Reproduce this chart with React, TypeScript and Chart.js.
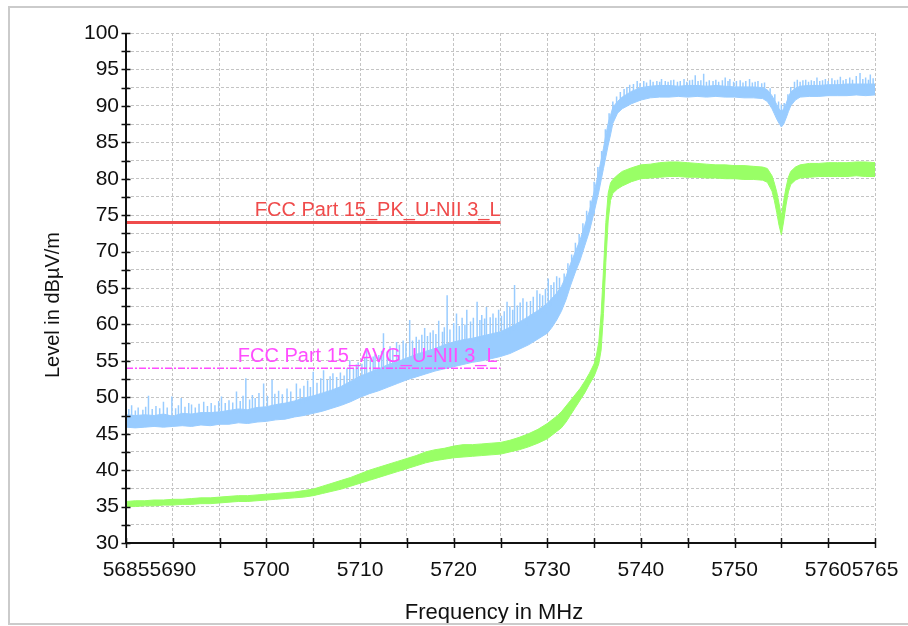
import React, { useEffect, useRef } from "react";
import { Chart, registerables } from "chart.js";

Chart.register(...registerables);

// Sweep frequencies (MHz); finer steps where the traces change quickly.
const freqMHz = [
  5685, 5686, 5687, 5688, 5689, 5690, 5691, 5692, 5693, 5694,
  5695, 5696, 5697, 5698, 5699, 5700, 5701, 5702, 5703, 5704,
  5705, 5706, 5707, 5708, 5709, 5710, 5711, 5712, 5713, 5714,
  5715, 5716, 5717, 5718, 5719, 5720, 5721, 5722, 5723, 5724,
  5725, 5726, 5727, 5728, 5729, 5730, 5730.5, 5731, 5731.5, 5732,
  5732.5, 5733, 5733.5, 5734, 5734.5, 5735, 5735.25, 5735.5, 5735.75, 5736,
  5736.25, 5736.5, 5736.75, 5737, 5737.5, 5738, 5739, 5740, 5741, 5742,
  5743, 5744, 5745, 5746, 5747, 5748, 5749, 5750, 5751, 5752,
  5753, 5753.5, 5754, 5754.25, 5754.5, 5754.75, 5755, 5755.25, 5755.5, 5755.75,
  5756, 5756.5, 5757, 5758, 5759, 5760, 5761, 5762, 5763, 5764,
  5765,
];

// Peak detector trace: lower and upper edge of the noise band (dBµV/m).
const peakLow = [
  45.9, 45.8, 45.9, 46.0, 45.9, 46.0, 46.1, 46.0, 46.2, 46.1,
  46.3, 46.3, 46.5, 46.4, 46.6, 46.7, 46.9, 47.0, 47.3, 47.5,
  47.8, 48.1, 48.5, 48.9, 49.4, 50.0, 50.5, 50.9, 51.4, 51.9,
  52.4, 52.8, 53.2, 53.6, 53.9, 54.2, 54.5, 54.8, 55.0, 55.3,
  55.6, 56.0, 56.6, 57.2, 58.0, 58.8, 59.6, 60.6, 61.8, 63.4,
  65.4, 67.2, 68.8, 70.8, 72.8, 75.4, 76.8, 78.2, 79.8, 81.4,
  83.0, 84.6, 86.0, 87.6, 89.0, 89.6, 90.3, 90.8, 91.1, 91.2,
  91.2, 91.3, 91.2, 91.3, 91.2, 91.3, 91.2, 91.2, 91.1, 91.1,
  91.0, 90.6, 89.6, 88.9, 88.2, 87.6, 87.1, 87.5, 88.3, 89.2,
  90.0, 90.8, 91.2, 91.3, 91.3, 91.4, 91.4, 91.4, 91.5, 91.4,
  91.5,
];
const peakHigh = [
  47.6, 47.5, 47.6, 47.5, 47.7, 47.4, 47.8, 47.7, 47.9, 47.9,
  48.0, 48.2, 48.4, 48.3, 48.6, 48.7, 49.0, 49.2, 49.5, 49.9,
  50.2, 50.6, 51.0, 51.5, 52.2, 52.9, 53.4, 53.9, 54.5, 54.9,
  55.4, 55.9, 56.3, 56.7, 57.2, 57.6, 57.9, 58.1, 58.4, 58.7,
  59.0, 59.6, 60.3, 61.1, 61.9, 62.9, 63.6, 64.3, 65.2, 66.6,
  68.4, 70.0, 71.6, 73.6, 75.6, 78.2, 79.6, 81.0, 82.6, 84.2,
  86.0, 87.6, 88.7, 89.8, 90.6, 91.2, 92.0, 92.5, 92.7, 92.8,
  92.8, 92.7, 92.8, 92.8, 92.7, 92.8, 92.7, 92.6, 92.6, 92.6,
  92.5, 92.2, 91.4, 90.8, 90.2, 89.6, 89.2, 89.6, 90.3, 91.2,
  91.9, 92.4, 92.7, 92.8, 92.8, 92.9, 92.9, 93.0, 93.0, 93.0,
  93.0,
];

// Average detector trace: lower and upper edge of the band (dBµV/m).
const avgLow = [
  35.0, 35.0, 35.1, 35.1, 35.2, 35.2, 35.3, 35.3, 35.4, 35.4,
  35.5, 35.6, 35.7, 35.7, 35.8, 35.9, 36.0, 36.1, 36.2, 36.3,
  36.5, 36.8, 37.1, 37.4, 37.8, 38.2, 38.6, 39.0, 39.4, 39.8,
  40.2, 40.6, 41.0, 41.3, 41.5, 41.7, 41.8, 41.9, 42.0, 42.1,
  42.2, 42.5, 42.8, 43.2, 43.7, 44.3, 44.8, 45.3, 45.8, 46.6,
  47.6, 48.6, 49.6, 50.6, 51.8, 52.9, 53.7, 54.6, 56.5, 61.5,
  68.5, 74.2, 77.0, 78.0, 78.6, 79.0, 79.6, 80.0, 80.1, 80.2,
  80.3, 80.3, 80.2, 80.2, 80.1, 80.1, 80.0, 80.0, 79.9, 79.9,
  79.8, 79.5, 78.3, 77.0, 75.4, 73.6, 72.3, 74.2, 76.4, 78.2,
  79.2, 79.8, 80.1, 80.2, 80.3, 80.3, 80.3, 80.3, 80.4, 80.3,
  80.3,
];
const avgHigh = [
  35.7, 35.8, 35.8, 35.9, 35.9, 36.0, 36.0, 36.1, 36.2, 36.2,
  36.3, 36.4, 36.5, 36.5, 36.6, 36.7, 36.8, 36.9, 37.0, 37.2,
  37.4, 37.8, 38.2, 38.6, 39.0, 39.5, 40.0, 40.4, 40.8, 41.2,
  41.6, 42.0, 42.5, 42.8, 43.0, 43.3, 43.5, 43.5, 43.6, 43.7,
  43.8, 44.1, 44.5, 45.0, 45.6, 46.4, 46.9, 47.4, 48.0, 48.8,
  49.6, 50.4, 51.2, 52.2, 53.3, 54.6, 55.8, 57.6, 61.5, 67.5,
  74.0, 78.0, 79.4, 79.9, 80.5, 81.0, 81.5, 81.9, 82.0, 82.2,
  82.3, 82.3, 82.2, 82.1, 82.0, 81.9, 81.9, 81.8, 81.8, 81.7,
  81.6, 81.4, 80.4, 79.4, 78.2, 76.6, 74.8, 77.0, 78.8, 80.2,
  81.0, 81.6, 81.9, 82.1, 82.1, 82.2, 82.2, 82.2, 82.3, 82.3,
  82.2,
];

// Peak-detector spikes rising out of the band: [frequency MHz, level dBµV/m].
const peakSpikes: [number, number][] = [
  [5685.3, 48.4], [5685.6, 48.9], [5686.0, 48.2], [5686.3, 48.6], [5686.8, 48.3],
  [5687.1, 48.7], [5687.4, 50.2], [5687.8, 48.4], [5688.2, 48.8], [5688.6, 48.5],
  [5689.0, 49.4], [5689.4, 48.6], [5689.9, 50.1], [5690.3, 48.5], [5690.6, 48.9],
  [5690.9, 49.9], [5691.3, 48.7], [5691.7, 49.2], [5692.0, 49.0], [5692.4, 48.6],
  [5692.8, 49.1], [5693.3, 49.4], [5693.7, 48.8], [5694.1, 49.2], [5694.5, 48.9],
  [5694.9, 49.5], [5695.2, 50.1], [5695.6, 49.2], [5696.0, 49.6], [5696.4, 49.3],
  [5696.8, 50.8], [5697.2, 49.5], [5697.5, 50.2], [5697.8, 52.6], [5698.2, 49.7],
  [5698.5, 50.3], [5698.8, 49.9], [5699.2, 50.6], [5699.7, 51.9], [5700.1, 50.2],
  [5700.6, 52.4], [5700.9, 50.5], [5701.3, 50.9], [5701.7, 50.4], [5702.2, 51.2],
  [5702.6, 50.8], [5703.2, 51.9], [5703.6, 51.2], [5704.0, 51.6], [5704.4, 52.3],
  [5704.7, 51.4], [5705.0, 53.5], [5705.4, 52.0], [5705.8, 52.6], [5706.1, 53.7],
  [5706.5, 52.4], [5706.8, 52.9], [5707.1, 53.3], [5707.5, 52.8], [5707.9, 53.4],
  [5708.3, 53.0], [5708.6, 54.0], [5708.9, 55.1], [5709.3, 53.9], [5709.6, 54.5],
  [5709.8, 54.8], [5710.2, 54.6], [5710.5, 55.4], [5710.7, 56.5], [5711.1, 55.2],
  [5711.4, 55.6], [5711.6, 55.9], [5712.0, 55.8], [5712.3, 56.4], [5712.5, 58.8],
  [5712.9, 56.3], [5713.2, 57.0], [5713.5, 56.6], [5713.9, 57.6], [5714.2, 57.2],
  [5714.6, 57.8], [5714.9, 57.4], [5715.3, 60.6], [5715.6, 57.8], [5716.0, 58.3],
  [5716.3, 57.9], [5716.6, 58.6], [5716.9, 59.5], [5717.2, 58.4], [5717.5, 58.9],
  [5717.8, 59.2], [5718.1, 58.7], [5718.4, 60.5], [5718.8, 59.0], [5719.0, 59.6],
  [5719.3, 64.0], [5719.6, 59.3], [5720.0, 60.2], [5720.3, 61.5], [5720.6, 59.8],
  [5720.9, 60.9], [5721.2, 60.0], [5721.4, 62.0], [5721.8, 60.4], [5722.1, 60.9],
  [5722.5, 63.1], [5722.8, 60.6], [5723.0, 61.3], [5723.3, 60.8], [5723.5, 62.4],
  [5723.9, 61.0], [5724.2, 61.5], [5724.5, 60.9], [5724.8, 62.0], [5725.1, 61.2],
  [5725.4, 61.8], [5725.7, 63.1], [5726.0, 62.5], [5726.3, 62.0], [5726.5, 65.4],
  [5726.8, 62.6], [5727.1, 63.0], [5727.4, 63.6], [5727.8, 63.1], [5728.2, 63.2],
  [5728.5, 63.8], [5728.9, 64.7], [5729.2, 64.2], [5729.5, 64.0], [5729.8, 64.9],
  [5730.1, 66.3], [5730.4, 65.4], [5730.7, 65.8], [5731.0, 66.6], [5731.3, 66.4],
  [5731.8, 67.0], [5732.2, 68.4], [5732.6, 69.6], [5733.0, 71.2], [5733.4, 72.4],
  [5733.8, 73.9], [5734.2, 75.6], [5734.6, 77.0], [5735.0, 79.6], [5735.4, 81.6],
  [5735.8, 83.8], [5736.2, 86.8], [5736.6, 89.0], [5737.0, 90.6], [5737.4, 91.3],
  [5737.8, 91.9], [5738.2, 92.3], [5738.5, 92.6], [5738.8, 92.9], [5739.2, 93.0],
  [5739.6, 93.4], [5739.9, 93.1], [5740.3, 93.4], [5740.6, 93.2], [5741.0, 93.6],
  [5741.3, 93.3], [5741.7, 93.4], [5742.0, 93.3], [5742.2, 93.7], [5742.6, 93.4],
  [5742.9, 93.3], [5743.2, 93.5], [5743.5, 93.6], [5743.9, 93.3], [5744.2, 93.4],
  [5744.6, 93.7], [5744.9, 93.3], [5745.2, 93.5], [5745.5, 93.6], [5745.8, 94.2],
  [5746.1, 93.4], [5746.4, 93.5], [5746.7, 94.4], [5747.0, 93.3], [5747.3, 93.5],
  [5747.7, 93.4], [5748.0, 93.6], [5748.3, 93.3], [5748.7, 93.5], [5749.0, 93.9],
  [5749.3, 93.4], [5749.5, 93.7], [5749.9, 93.3], [5750.2, 93.4], [5750.6, 93.5],
  [5750.9, 93.2], [5751.2, 93.4], [5751.6, 93.7], [5751.9, 93.2], [5752.2, 93.3],
  [5752.5, 93.4], [5752.9, 93.1], [5753.2, 93.2], [5753.8, 92.4], [5754.3, 91.6],
  [5754.7, 90.6], [5755.0, 90.2], [5755.3, 90.4], [5755.7, 91.6], [5756.0, 92.6],
  [5756.4, 93.3], [5756.7, 93.6], [5757.0, 93.3], [5757.3, 93.5], [5757.6, 93.6],
  [5757.9, 93.3], [5758.2, 93.5], [5758.5, 93.4], [5758.8, 93.9], [5759.1, 93.4],
  [5759.4, 93.5], [5759.7, 93.7], [5760.0, 93.4], [5760.4, 93.8], [5760.7, 93.5],
  [5761.0, 93.6], [5761.3, 94.0], [5761.6, 93.5], [5761.9, 93.7], [5762.3, 93.9],
  [5762.6, 93.6], [5763.0, 94.1], [5763.4, 94.5], [5763.7, 93.7], [5764.0, 93.9],
  [5764.3, 93.6], [5764.5, 94.3], [5764.8, 93.8],
];

// Limit lines.
const pkLimitLabel = "FCC Part 15_PK_U-NII 3_L";
const pkLimitLevel = 74;
const avgLimitLabel = "FCC Part 15_AVG_U-NII 3_L";
const avgLimitLevel = 54;
const limitSpan = [5685, 5725];

// Axis setup.
const xRange = [5685, 5765];
const yRange = [30, 100];
const xLabelledTicks = [5685, 5690, 5700, 5710, 5720, 5730, 5740, 5750, 5760, 5765];
const yLabelStep = 5;
const xTitle = "Frequency in MHz";
const yTitle = "Level in dBµV/m";

const FONT = '"Liberation Sans", Arial, Helvetica, sans-serif';
const PEAK_COLOR = "#99ccff";
const AVG_COLOR = "#99ff66";
const PK_LIMIT_COLOR = "#ef4b4b";
const AVG_LIMIT_COLOR = "#ff4dff";
const FRAME_COLOR = "#cbcbcb";

const W = 908;
const H = 626;

const toPoints = (vals: number[]) => freqMHz.map((f, i) => ({ x: f, y: vals[i] }));

// Spikes start from the lower of the two neighbouring band tops so they rise out of the band.
function spikeBase(f: number): number {
  let i = 0;
  while (i < freqMHz.length - 2 && freqMHz[i + 1] < f) i++;
  return Math.min(peakHigh[i], peakHigh[i + 1]) - 0.4;
}

const axesPlugin = {
  id: "emcAxes",
  afterDatasetsDraw(chart: any) {
    const { ctx, chartArea, scales } = chart;
    const x = scales.x;
    const y = scales.y;
    ctx.save();

    // limit line captions
    ctx.font = `20px ${FONT}`;
    ctx.textAlign = "right";
    ctx.textBaseline = "alphabetic";
    ctx.fillStyle = PK_LIMIT_COLOR;
    ctx.fillText(pkLimitLabel, x.getPixelForValue(limitSpan[1]), y.getPixelForValue(pkLimitLevel) - 6);
    ctx.fillStyle = AVG_LIMIT_COLOR;
    ctx.fillText(avgLimitLabel, x.getPixelForValue(limitSpan[1]) - 3, y.getPixelForValue(avgLimitLevel) - 6);

    // axis lines
    ctx.strokeStyle = "#111";
    ctx.lineWidth = 2;
    ctx.beginPath();
    ctx.moveTo(chartArea.left, chartArea.top);
    ctx.lineTo(chartArea.left, chartArea.bottom);
    ctx.lineTo(chartArea.right, chartArea.bottom);
    ctx.stroke();

    // tick marks crossing the axis lines
    ctx.lineWidth = 1.5;
    ctx.beginPath();
    y.ticks.forEach((t: any) => {
      const py = Math.round(y.getPixelForValue(t.value)) + 0.5;
      ctx.moveTo(chartArea.left - 4.5, py);
      ctx.lineTo(chartArea.left + 4.5, py);
    });
    x.ticks.forEach((t: any) => {
      const px = Math.round(x.getPixelForValue(t.value)) + 0.5;
      ctx.moveTo(px, chartArea.bottom - 5);
      ctx.lineTo(px, chartArea.bottom + 5);
    });
    ctx.stroke();
    ctx.restore();
  },
  afterDraw(chart: any) {
    const { ctx } = chart;
    ctx.save();
    // axis titles
    ctx.fillStyle = "#111";
    ctx.textAlign = "center";
    ctx.textBaseline = "middle";
    ctx.font = `22px ${FONT}`;
    ctx.fillText(xTitle, 494, 613);
    ctx.translate(53, 305);
    ctx.rotate(-Math.PI / 2);
    ctx.font = `20px ${FONT}`;
    ctx.fillText(yTitle, 0, 0);
    ctx.setTransform(1, 0, 0, 1, 0, 0);
    // panel frame (open on the right)
    ctx.fillStyle = FRAME_COLOR;
    ctx.fillRect(8, 6, W - 8, 2);
    ctx.fillRect(8, 6, 2, 619);
    ctx.fillRect(8, 623, W - 8, 2);
    ctx.restore();
  },
};

export default function App() {
  const canvasRef = useRef<HTMLCanvasElement | null>(null);

  useEffect(() => {
    if (!canvasRef.current) return;
    Chart.defaults.font.family = FONT;
    const spikePoints = peakSpikes.flatMap(([f, top]) => [
      { x: f, y: spikeBase(f) },
      { x: f, y: top },
      { x: f, y: null as any },
    ]);

    const chart = new Chart(canvasRef.current, {
      type: "line",
      data: {
        datasets: [
          { data: toPoints(avgLow), borderColor: AVG_COLOR, borderWidth: 1, fill: false, order: 4 },
          { data: toPoints(avgHigh), borderColor: AVG_COLOR, backgroundColor: AVG_COLOR, borderWidth: 1, fill: "-1", order: 4 },
          { data: toPoints(peakLow), borderColor: PEAK_COLOR, borderWidth: 1, fill: false, order: 3 },
          { data: toPoints(peakHigh), borderColor: PEAK_COLOR, backgroundColor: PEAK_COLOR, borderWidth: 1, fill: "-1", order: 3 },
          { data: spikePoints, borderColor: PEAK_COLOR, borderWidth: 1.5, fill: false, spanGaps: false, order: 2 },
          {
            data: limitSpan.map((f) => ({ x: f, y: pkLimitLevel })),
            borderColor: PK_LIMIT_COLOR, borderWidth: 3, fill: false, order: 1,
          },
          {
            data: limitSpan.map((f) => ({ x: f, y: avgLimitLevel })),
            borderColor: AVG_LIMIT_COLOR, borderWidth: 1.5, borderDash: [7, 2, 2, 2], fill: false, order: 1,
          },
        ] as any,
      },
      options: {
        animation: false,
        responsive: false,
        maintainAspectRatio: false,
        devicePixelRatio: 1,
        elements: { point: { radius: 0, hitRadius: 0 }, line: { tension: 0 } },
        layout: { padding: { top: 33, right: 33, bottom: 2, left: 10 } },
        plugins: { legend: { display: false }, tooltip: { enabled: false } },
        scales: {
          x: {
            type: "linear",
            min: xRange[0],
            max: xRange[1],
            afterFit: (s: any) => { s.height = 81; },
            grid: { color: "#c4c4c4", lineWidth: 1, drawTicks: false },
            border: { display: false, dash: [3, 2] },
            ticks: {
              stepSize: 5,
              autoSkip: false,
              maxRotation: 0,
              minRotation: 0,
              padding: 0,
              color: "#111",
              // tall line box places the labels below the axis without widening the side padding
              font: { size: 21, lineHeight: 2.62 },
              callback: (v: any) => (xLabelledTicks.includes(Number(v)) ? String(v) : ""),
            },
          },
          y: {
            type: "linear",
            min: yRange[0],
            max: yRange[1],
            afterFit: (s: any) => { s.width = 116; },
            grid: { color: "#c4c4c4", lineWidth: 1, drawTicks: false },
            border: { display: false, dash: [3, 2] },
            ticks: {
              stepSize: 2.5,
              autoSkip: false,
              padding: 7,
              color: "#111",
              font: { size: 21 },
              callback: (v: any) => (Number(v) % yLabelStep === 0 ? String(v) : ""),
            },
          },
        },
      },
      plugins: [axesPlugin],
    });
    return () => chart.destroy();
  }, []);

  return (
    <canvas
      ref={canvasRef}
      width={W}
      height={H}
      style={{ position: "fixed", left: 0, top: 0, width: W, height: H, display: "block", background: "#fff" }}
    />
  );
}
